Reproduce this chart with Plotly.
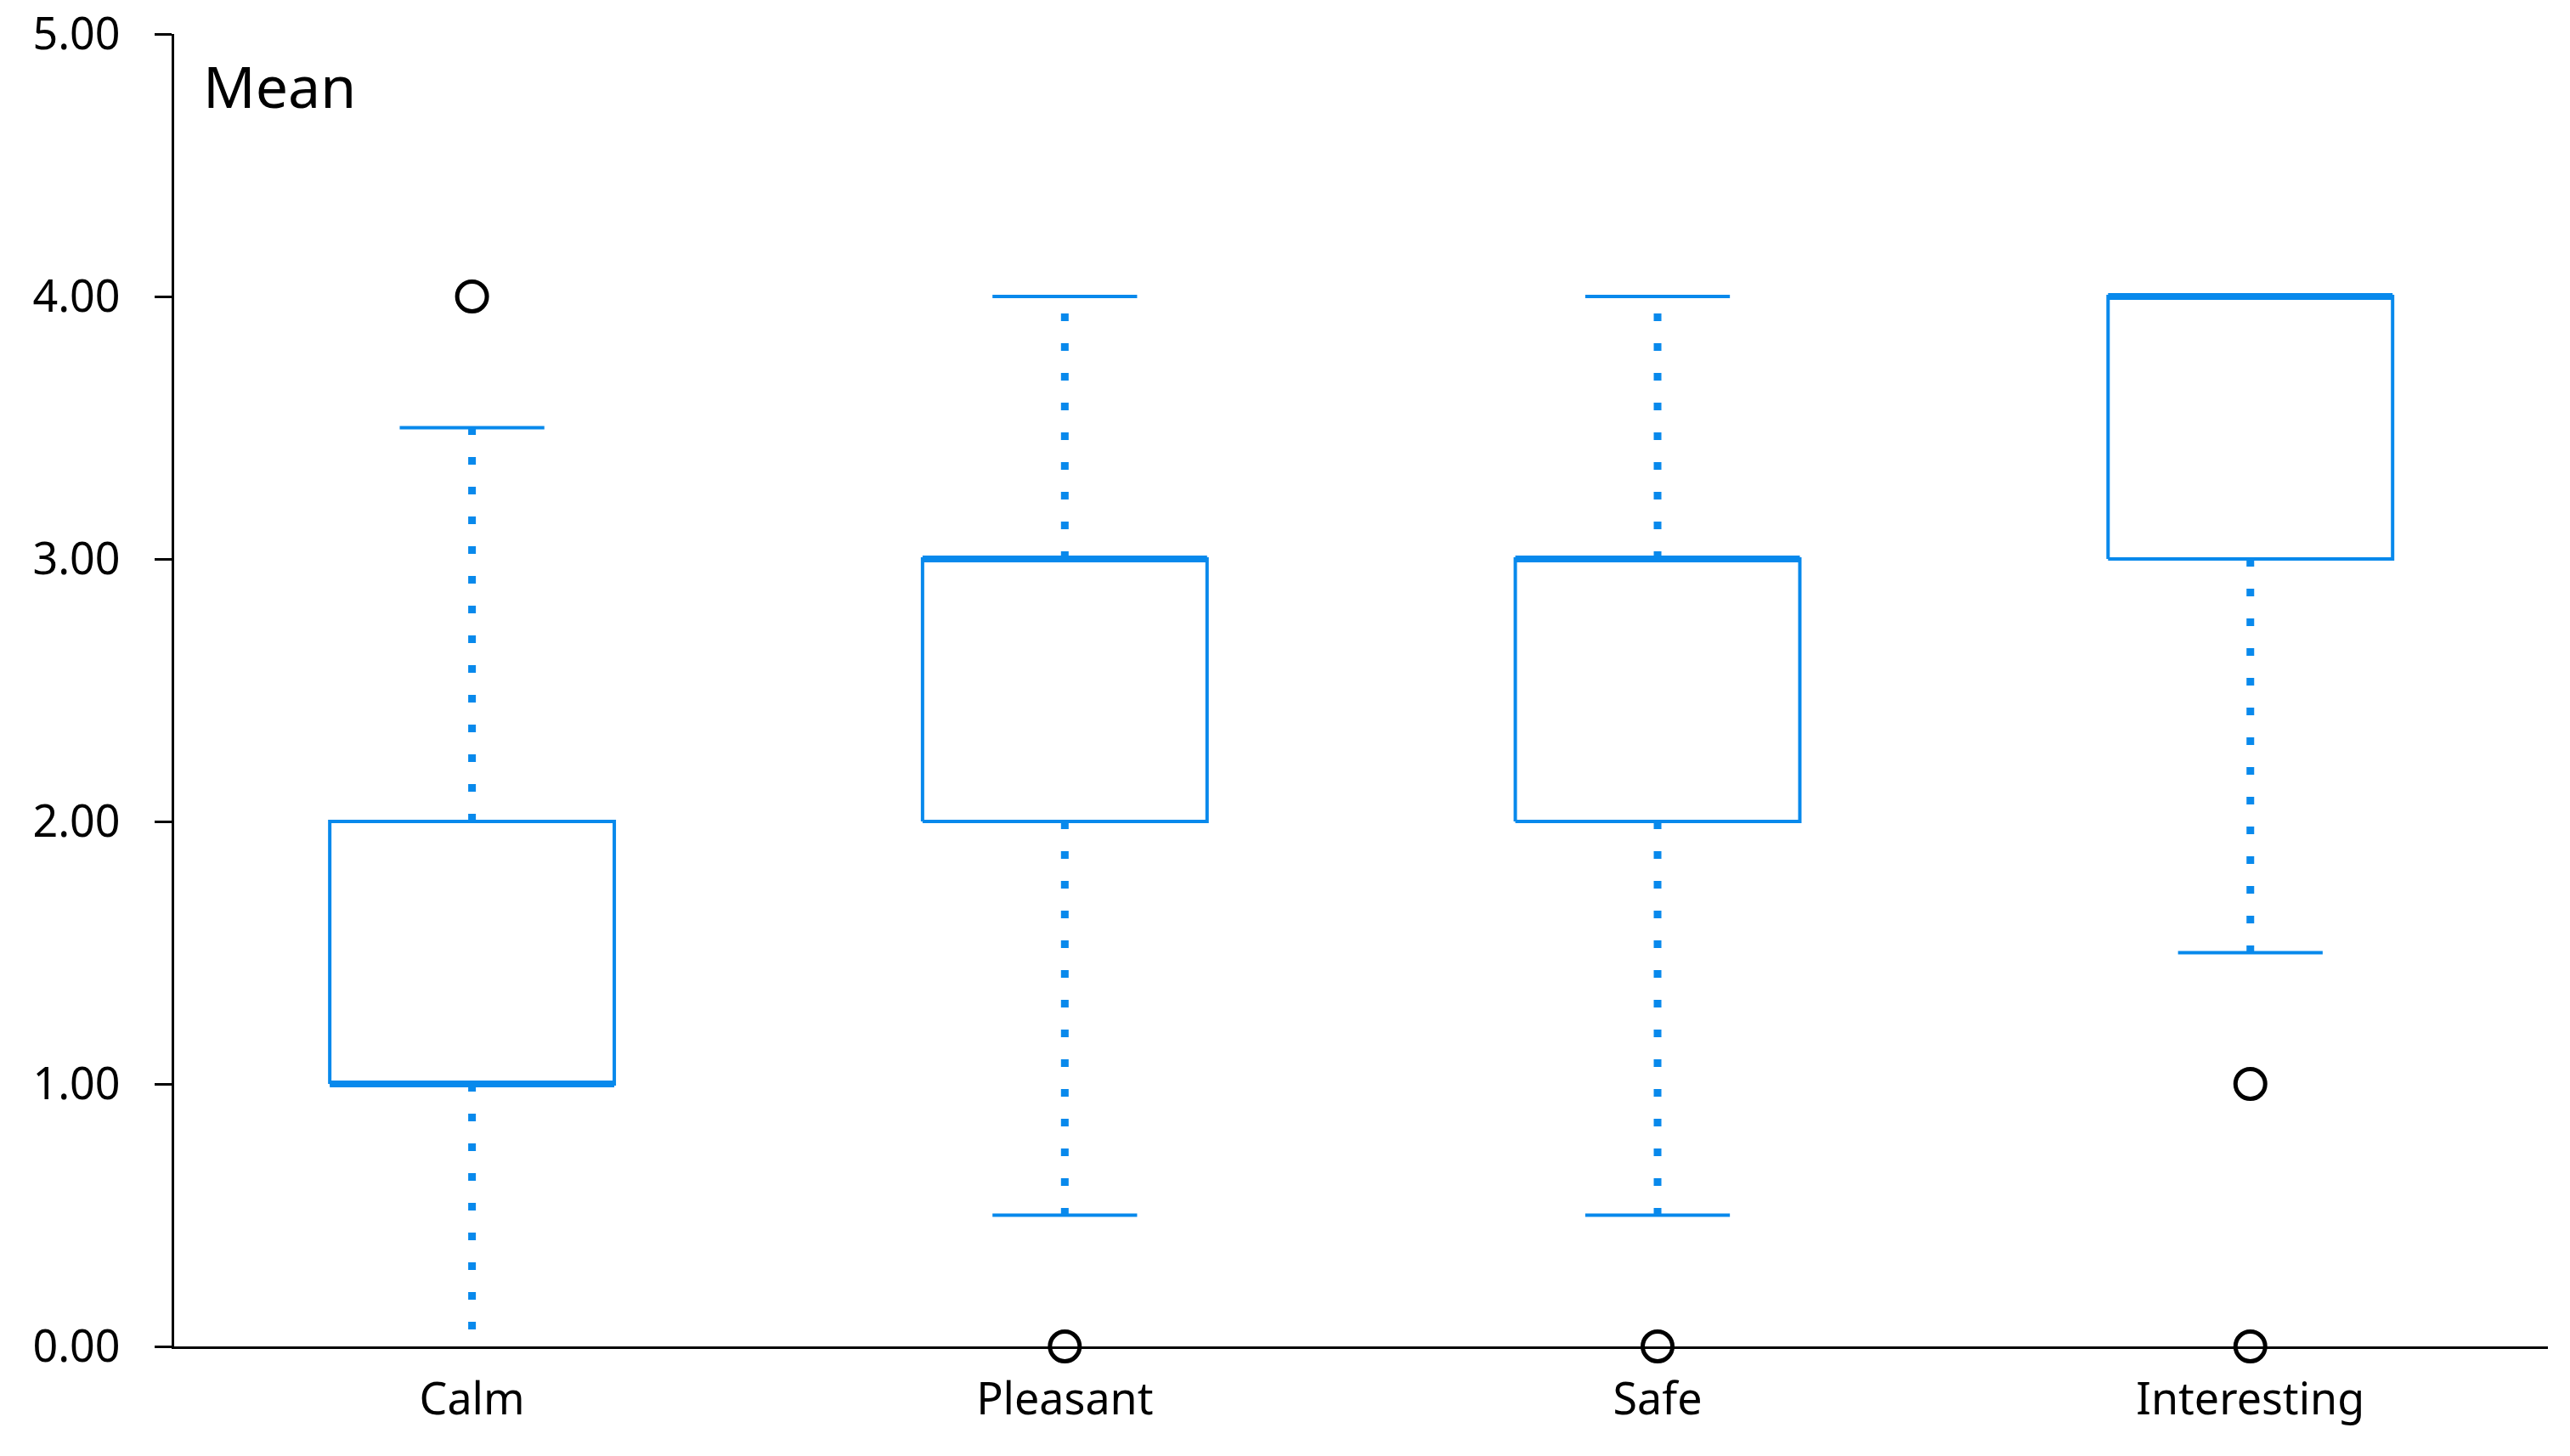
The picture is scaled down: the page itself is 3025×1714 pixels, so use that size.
import plotly.graph_objects as go

categories = ["Calm", "Pleasant", "Safe", "Interesting"]
q1 = [1.0, 2.0, 2.0, 3.0]
median = [1.0, 3.0, 3.0, 4.0]
q3 = [2.0, 3.0, 3.0, 4.0]
whisker_low = [0.0, 0.5, 0.5, 1.5]
whisker_high = [3.5, 4.0, 4.0, 4.0]
outliers = [[4.0], [0.0], [0.0], [1.0, 0.0]]
y_ticks = [0, 1, 2, 3, 4, 5]
Y_MIN, Y_MAX = 0, 5

BLUE = "#0889EC"
BOX_HALF = 0.24
CAP_HALF = 0.122
FONT = "Noto Sans"
DOT = "9px,26px"

fig = go.Figure()

for i, cat in enumerate(categories):
    # whiskers (dotted)
    if whisker_high[i] > q3[i]:
        fig.add_trace(go.Scatter(x=[i, i], y=[q3[i], whisker_high[i]], mode="lines",
                                 line=dict(color=BLUE, width=9, dash=DOT),
                                 showlegend=False, hoverinfo="skip"))
    if whisker_low[i] < q1[i]:
        fig.add_trace(go.Scatter(x=[i, i], y=[q1[i], whisker_low[i]], mode="lines",
                                 line=dict(color=BLUE, width=9, dash=DOT),
                                 showlegend=False, hoverinfo="skip"))
    # caps (a cap lying on the axis floor is hidden by the axis line)
    for w in (whisker_low[i], whisker_high[i]):
        if w <= Y_MIN:
            continue
        fig.add_trace(go.Scatter(x=[i - CAP_HALF, i + CAP_HALF], y=[w, w], mode="lines",
                                 line=dict(color=BLUE, width=4),
                                 showlegend=False, hoverinfo="skip"))
    # box
    fig.add_trace(go.Scatter(x=[i - BOX_HALF, i + BOX_HALF, i + BOX_HALF, i - BOX_HALF, i - BOX_HALF],
                             y=[q1[i], q1[i], q3[i], q3[i], q1[i]], mode="lines",
                             line=dict(color=BLUE, width=4),
                             showlegend=False, hoverinfo="skip"))
    # median
    fig.add_trace(go.Scatter(x=[i - BOX_HALF, i + BOX_HALF], y=[median[i], median[i]], mode="lines",
                             line=dict(color=BLUE, width=8),
                             showlegend=False, hoverinfo="skip"))
    # outliers
    fig.add_trace(go.Scatter(x=[i] * len(outliers[i]), y=outliers[i], mode="markers",
                             marker=dict(symbol="circle", size=35, color="white",
                                         line=dict(width=5, color="black")),
                             showlegend=False, cliponaxis=False, hoverinfo="skip"))

fig.update_layout(
    width=3025, height=1714,
    margin=dict(l=205, r=26, t=40, b=129),
    plot_bgcolor="white", paper_bgcolor="white",
    font=dict(family=FONT, size=52, color="black"),
    xaxis=dict(range=[-0.5025, 3.502], tickmode="array", tickvals=list(range(len(categories))),
               ticktext=categories, showgrid=False, zeroline=False, showline=True,
               linecolor="black", linewidth=3, ticks="outside", ticklen=15,
               tickcolor="rgba(0,0,0,0)", tickfont=dict(size=52), automargin=False),
    yaxis=dict(range=[Y_MIN, Y_MAX], tickmode="array", tickvals=y_ticks,
               ticktext=[f"{v:.2f}" for v in y_ticks], showgrid=False, zeroline=False,
               showline=True, linecolor="black", linewidth=3, ticks="outside",
               ticklen=20, tickwidth=3, tickcolor="black", tickfont=dict(size=52),
               ticklabelstandoff=30, automargin=False),
    annotations=[dict(text="Mean", xref="paper", yref="paper", x=0.0115, y=0.961,
                      xanchor="left", yanchor="middle", showarrow=False,
                      font=dict(size=68, family=FONT, color="black"))],
)

fig.write_html("out.html", config={"displayModeBar": False},
               post_script="document.body.style.margin='0px';")
